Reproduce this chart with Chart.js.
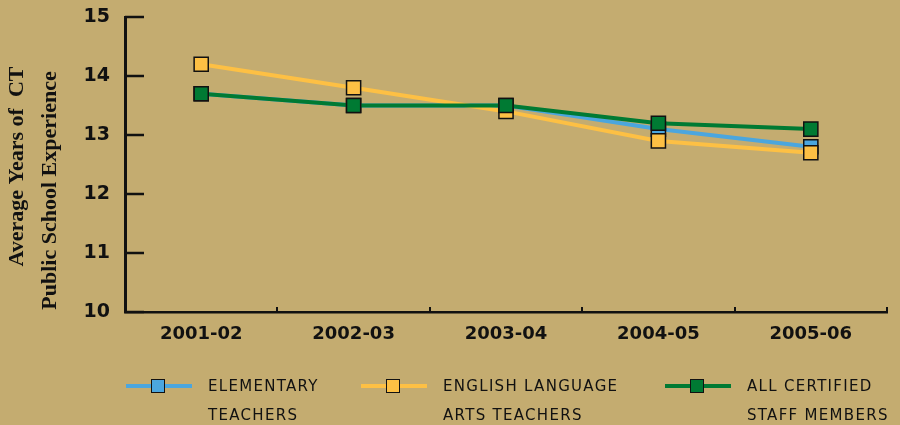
<!DOCTYPE html>
<html>
<head>
<meta charset="utf-8">
<script src="https://cdn.jsdelivr.net/npm/chart.js@4"></script>
<style>
  html, body { margin: 0; padding: 0; background: #c4ac70; }
  #wrap { position: relative; width: 900px; height: 425px; }
  #legend { position: absolute; left: 0; top: 0; width: 900px; height: 425px; pointer-events: none; }
  .item { position: absolute; top: 372px; }
  .swatch { position: absolute; left: 0; top: 12px; width: 66px; height: 4px; }
  .swatch span { position: absolute; left: 25px; top: -5px; width: 14px; height: 14px; border: 1.5px solid #111; box-sizing: border-box; }
  .txt { position: absolute; left: 82px; top: 0; font: 15px "DejaVu Sans", sans-serif; letter-spacing: 1.3px; color: #111; line-height: 29px; white-space: nowrap; }
</style>
</head>
<body>
<div id="wrap">
  <canvas id="chart" width="900" height="425"></canvas>
  <div id="legend"></div>
</div>
<script>
// data
var seasons = ['2001-02', '2002-03', '2003-04', '2004-05', '2005-06'];
var elementary = [13.7, 13.5, 13.5, 13.1, 12.8];
var englishArts = [14.2, 13.8, 13.4, 12.9, 12.7];
var allCertified = [13.7, 13.5, 13.5, 13.2, 13.1];
var yTicks = [10, 11, 12, 13, 14, 15];
var yTitle = ['Average Years of  CT', 'Public School Experience'];
var legendNames = [['ELEMENTARY', 'TEACHERS'], ['ENGLISH LANGUAGE', 'ARTS TEACHERS'], ['ALL CERTIFIED', 'STAFF MEMBERS']];
var colors = ['#4ba6de', '#fdc044', '#007a33'];

// small inward ticks on both axes + the rotated y title
var axisExtras = {
  id: 'axisExtras',
  afterDraw: function(chart) {
    var ctx = chart.ctx;
    var x = chart.scales.x, y = chart.scales.y;
    ctx.save();
    ctx.strokeStyle = '#111';
    ctx.lineWidth = 2.5;
    yTicks.forEach(function(v) {
      var py = Math.round(y.getPixelForValue(v));
      ctx.beginPath();
      ctx.moveTo(x.left, py);
      ctx.lineTo(x.left + 19, py);
      ctx.stroke();
    });
    ctx.lineWidth = 2;
    for (var i = 1; i <= seasons.length; i++) {
      var px = Math.round(x.getPixelForValue(i - 0.5));
      ctx.beginPath();
      ctx.moveTo(px, y.bottom);
      ctx.lineTo(px, y.bottom - 5);
      ctx.stroke();
    }
    ctx.restore();

    // title lines, each with its own centre like the original
    var mid = (y.top + y.bottom) / 2;
    var spots = [[17, mid + 2], [50, mid + 26]];
    ctx.save();
    ctx.fillStyle = '#111';
    ctx.font = 'bold 22px "Liberation Serif"';
    ctx.textAlign = 'center';
    ctx.textBaseline = 'middle';
    yTitle.forEach(function(line, k) {
      ctx.save();
      ctx.translate(spots[k][0], spots[k][1]);
      ctx.rotate(-Math.PI / 2);
      ctx.fillText(line, 0, 0);
      ctx.restore();
    });
    ctx.restore();
  }
};

function ds(label, data, color, order) {
  return {
    label: label,
    data: data,
    borderColor: color,
    backgroundColor: color,
    borderWidth: 4,
    pointStyle: 'rect',
    pointRadius: 10,
    pointHoverRadius: 10,
    pointBorderColor: '#111',
    pointBorderWidth: 1.5,
    order: order
  };
}

new Chart(document.getElementById('chart'), {
  type: 'line',
  data: {
    labels: seasons,
    datasets: [
      ds('Elementary Teachers', elementary, colors[0], 2),
      ds('English Language Arts Teachers', englishArts, colors[1], 1),
      ds('All Certified Staff Members', allCertified, colors[2], 0)
    ]
  },
  options: {
    responsive: false,
    animation: false,
    layout: { padding: { top: 17, right: 13, left: 0, bottom: 0 } },
    plugins: { legend: { display: false }, tooltip: { enabled: false } },
    scales: {
      x: {
        offset: true,
        grid: { display: false, drawTicks: false },
        border: { color: '#111', width: 2.5 },
        ticks: { color: '#111', padding: 12, font: { family: 'DejaVu Sans', size: 18, weight: 'bold' } },
        afterFit: function(s) { s.height = 113; s.paddingLeft = 0; s.paddingRight = 0; }
      },
      y: {
        min: 10,
        max: 15,
        afterBuildTicks: function(s) { s.ticks = yTicks.map(function(v) { return { value: v }; }); },
        grid: { display: false, drawTicks: false },
        border: { color: '#111', width: 3 },
        ticks: { color: '#111', padding: 15, font: { family: 'DejaVu Sans', size: 19, weight: 'bold' } },
        afterFit: function(s) { s.width = 125; s.paddingTop = 0; s.paddingBottom = 0; }
      }
    }
  },
  plugins: [axisExtras]
});

// legend below the plot
var lefts = [126, 361, 665];
var leg = document.getElementById('legend');
legendNames.forEach(function(lines, i) {
  var d = document.createElement('div');
  d.className = 'item';
  d.style.left = lefts[i] + 'px';
  d.innerHTML = '<div class="swatch" style="background:' + colors[i] + '"><span style="background:' + colors[i] + '"></span></div>' +
    '<div class="txt">' + lines.join('<br>') + '</div>';
  leg.appendChild(d);
});
</script>
</body>
</html>
